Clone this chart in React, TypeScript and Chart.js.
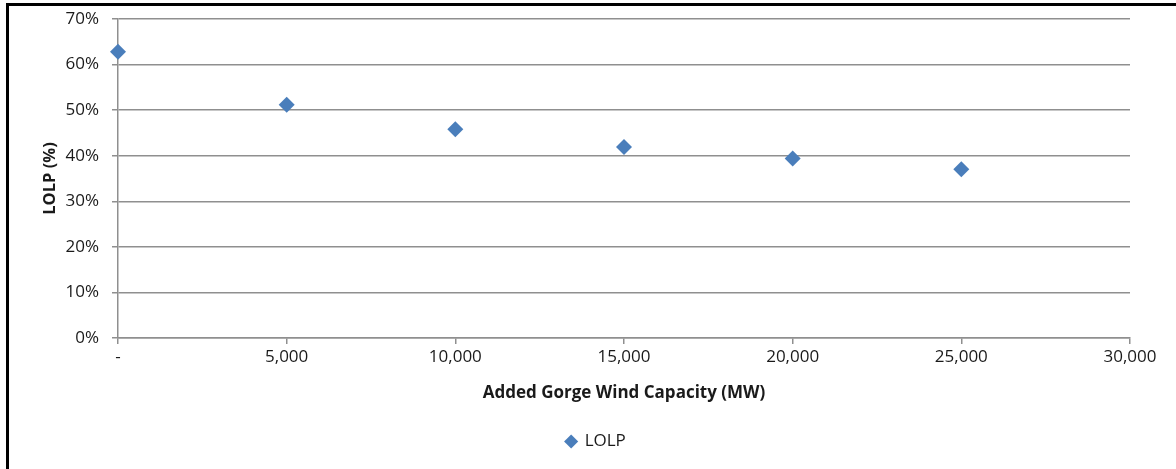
import React, { useEffect, useRef } from "react";
import { Chart, registerables } from "chart.js";

Chart.register(...registerables);

const capacityMW = [0, 5000, 10000, 15000, 20000, 25000];
const lolpPercent = [62.8, 51.2, 45.8, 41.9, 39.4, 37.0];
const xTickLabels = ["-", "5,000", "10,000", "15,000", "20,000", "25,000", "30,000"];
const yTickLabels = ["0%", "10%", "20%", "30%", "40%", "50%", "60%", "70%"];
const seriesName = "LOLP";
const xTitle = "Added Gorge Wind Capacity (MW)";
const yTitle = "LOLP (%)";

const FONT = "'Open Sans', 'Noto Sans', sans-serif";
const BLUE = "#4a7ebb";
const GRID = "#8f8f8f";
const TEXT = "#1a1a1a";

export default function App() {
  const ref = useRef<HTMLCanvasElement | null>(null);

  useEffect(() => {
    if (!ref.current) return;
    const chart = new Chart(ref.current, {
      type: "scatter",
      data: {
        datasets: [
          {
            label: seriesName,
            data: capacityMW.map((x, i) => ({ x, y: lolpPercent[i] })),
            backgroundColor: BLUE,
            borderColor: BLUE,
            pointStyle: "rectRot",
            pointRadius: 8,
            pointHoverRadius: 8,
            borderWidth: 0,
            clip: false,
          } as any,
        ],
      },
      options: {
        responsive: false,
        animation: false,
        layout: { padding: { top: 8, right: 46, bottom: 9, left: 62 } },
        plugins: {
          tooltip: { enabled: false },
          legend: {
            position: "bottom",
            labels: {
              usePointStyle: true,
              pointStyle: "rectRot",
              boxWidth: 10,
              boxHeight: 10,
              padding: 10,
              color: TEXT,
              font: { family: FONT, size: 17 },
            },
          },
        },
        scales: {
          x: {
            type: "linear",
            min: 0,
            max: 30000,
            afterFit: (s: any) => {
              s.height = 85;
            },
            ticks: {
              stepSize: 5000,
              padding: 3,
              color: TEXT,
              font: { family: FONT, size: 17 },
              maxRotation: 0,
              callback: (_v: any, i: number) => xTickLabels[i],
            },
            grid: {
              drawOnChartArea: false,
              drawTicks: true,
              tickLength: 6,
              color: GRID,
              lineWidth: 1.5,
            },
            border: { color: GRID, width: 1.5 },
            title: {
              display: true,
              text: xTitle,
              color: TEXT,
              font: { family: FONT, size: 17, weight: "bold" },
              padding: { top: 0, bottom: 20 },
            },
          },
          y: {
            min: 0,
            max: 70,
            afterFit: (s: any) => {
              s.width = 56;
            },
            ticks: {
              stepSize: 10,
              padding: 13,
              color: TEXT,
              font: { family: FONT, size: 17, lineHeight: 0.7 },
              callback: (_v: any, i: number) => yTickLabels[i],
            },
            grid: {
              drawTicks: true,
              tickLength: 6,
              color: GRID,
              lineWidth: 1.5,
            },
            border: { color: GRID, width: 1.5 },
            title: {
              display: true,
              text: yTitle,
              color: TEXT,
              font: { family: FONT, size: 16.5, weight: "bold" },
              padding: { top: -22, bottom: 0 },
            },
          },
        },
      },
    });
    return () => chart.destroy();
  }, []);

  return (
    <div style={{ position: "absolute", left: 0, top: 0, width: 1176, height: 469, overflow: "hidden", background: "#fff" }}>
      <canvas ref={ref} width={1176} height={469} style={{ display: "block" }} />
      <div
        style={{
          position: "absolute",
          left: 6,
          top: 3,
          width: 1170,
          height: 466,
          boxSizing: "border-box",
          borderLeft: "3px solid #000",
          borderTop: "3px solid #000",
          pointerEvents: "none",
        }}
      />
    </div>
  );
}
